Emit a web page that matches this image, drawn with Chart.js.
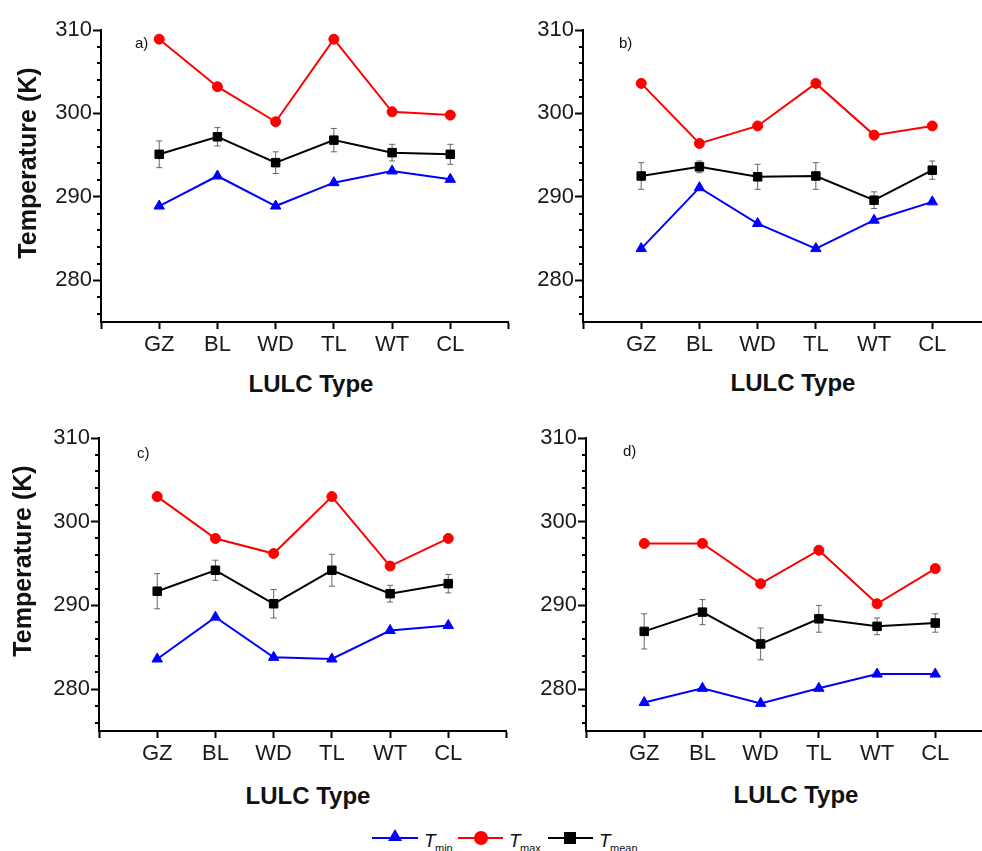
<!DOCTYPE html>
<html>
<head>
<meta charset="utf-8">
<script src="https://cdn.jsdelivr.net/npm/chart.js@4.4.1/dist/chart.umd.min.js"></script>
<style>
html, body { margin: 0; padding: 0; background: #fff; width: 982px; height: 851px; overflow: hidden; }
body { position: relative; font-family: "Liberation Sans", Arial, sans-serif; color: #111; }
canvas { position: absolute; }
.ytitle { position: absolute; font-weight: bold; font-size: 25px; white-space: nowrap; transform: translate(-50%, -50%) rotate(-90deg); }
.xtitle { position: absolute; font-weight: bold; font-size: 24px; white-space: nowrap; transform: translate(-50%, -50%); }
.tag { position: absolute; font-size: 15px; }
.lg { position: absolute; }
.lgT { position: absolute; font-style: italic; font-size: 19px; top: 830px; }
.lgS { position: absolute; font-size: 11px; top: 842px; }
</style>
</head>
<body>

<canvas id="chartA" width="521" height="360"></canvas>
<canvas id="chartB" width="521" height="360"></canvas>
<canvas id="chartC" width="521" height="361"></canvas>
<canvas id="chartD" width="521" height="361"></canvas>

<div class="ytitle" style="left:27px; top:163px;">Temperature (K)</div>
<div class="ytitle" style="left:22px; top:561px;">Temperature (K)</div>
<div class="xtitle" style="left:311px; top:384px;">LULC Type</div>
<div class="xtitle" style="left:793px; top:383px;">LULC Type</div>
<div class="xtitle" style="left:308px; top:796px;">LULC Type</div>
<div class="xtitle" style="left:796px; top:795px;">LULC Type</div>
<div class="tag" style="left:135px; top:34px;">a)</div>
<div class="tag" style="left:619px; top:34px;">b)</div>
<div class="tag" style="left:137px; top:444px;">c)</div>
<div class="tag" style="left:623px; top:442px;">d)</div>

<!-- legend -->
<div class="lg" style="left:372px; top:837px; width:46px; height:2px; background:#0000ff;"></div>
<div class="lg" style="left:388px; top:829px; width:14px; height:12px; background:#0000ff; clip-path:polygon(50% 0, 100% 100%, 0 100%);"></div>
<div class="lgT" style="left:424px;">T</div><div class="lgS" style="left:435px;">min</div>
<div class="lg" style="left:458px; top:837px; width:45px; height:2px; background:#ff0000;"></div>
<div class="lg" style="left:474px; top:831px; width:14px; height:14px; border-radius:50%; background:#ff0000;"></div>
<div class="lgT" style="left:509px;">T</div><div class="lgS" style="left:520px;">max</div>
<div class="lg" style="left:548px; top:837px; width:45px; height:2px; background:#000;"></div>
<div class="lg" style="left:564px; top:832px; width:12px; height:12px; background:#000;"></div>
<div class="lgT" style="left:599px;">T</div><div class="lgS" style="left:610px;">mean</div>

<script>
const categories = ["GZ", "BL", "WD", "TL", "WT", "CL"];
const yTicks = [280, 290, 300, 310];
const yMinorTicks = [276, 278, 282, 284, 286, 288, 292, 294, 296, 298, 302, 304, 306, 308];

// a)
const tminA = [288.9, 292.5, 288.9, 291.7, 293.1, 292.1];
const tmaxA = [308.9, 303.2, 299.0, 308.9, 300.2, 299.8];
const tmeanA = [295.1, 297.2, 294.1, 296.8, 295.3, 295.1];
const errA = [1.6, 1.1, 1.3, 1.4, 1.0, 1.2];

// b)
const tminB = [283.8, 291.1, 286.8, 283.8, 287.2, 289.4];
const tmaxB = [303.6, 296.4, 298.5, 303.6, 297.4, 298.5];
const tmeanB = [292.5, 293.6, 292.4, 292.5, 289.6, 293.2];
const errB = [1.6, 0.7, 1.5, 1.6, 1.0, 1.1];

// c)
const tminC = [283.6, 288.6, 283.8, 283.6, 287.0, 287.6];
const tmaxC = [303.0, 298.0, 296.2, 303.0, 294.7, 298.0];
const tmeanC = [291.7, 294.2, 290.2, 294.2, 291.4, 292.6];
const errC = [2.1, 1.2, 1.7, 1.9, 1.0, 1.1];

// d)
const tminD = [278.4, 280.1, 278.3, 280.1, 281.8, 281.8];
const tmaxD = [297.4, 297.4, 292.6, 296.6, 290.2, 294.4];
const tmeanD = [286.9, 289.2, 285.4, 288.4, 287.5, 287.9];
const errD = [2.1, 1.5, 1.9, 1.6, 1.0, 1.1];

const FONT = "'Liberation Sans', Arial, sans-serif";

function pts(vals) {
    return vals.map((v, i) => ({ x: i + 1, y: v }));
}

// error bars behind the mean markers
const errorBars = {
    id: "errorBars",
    beforeDatasetsDraw(chart) {
        const ctx = chart.ctx;
        const xs = chart.scales.x, ys = chart.scales.y;
        chart.data.datasets.forEach(ds => {
            if (!ds.errors) return;
            ctx.save();
            ctx.strokeStyle = "#666";
            ctx.lineWidth = 1;
            ds.data.forEach((p, i) => {
                const x = xs.getPixelForValue(p.x);
                const y1 = ys.getPixelForValue(p.y + ds.errors[i]);
                const y2 = ys.getPixelForValue(p.y - ds.errors[i]);
                ctx.beginPath();
                ctx.moveTo(x, y1); ctx.lineTo(x, y2);
                ctx.moveTo(x - 3, y1); ctx.lineTo(x + 3, y1);
                ctx.moveTo(x - 3, y2); ctx.lineTo(x + 3, y2);
                ctx.stroke();
            });
            ctx.restore();
        });
    }
};

// short minor ticks on the y axis
const minorTicks = {
    id: "minorTicks",
    afterDraw(chart) {
        const ctx = chart.ctx;
        const ys = chart.scales.y;
        const left = chart.chartArea.left;
        ctx.save();
        ctx.strokeStyle = "#000";
        ctx.lineWidth = 2;
        yMinorTicks.forEach(v => {
            const y = Math.round(ys.getPixelForValue(v));
            ctx.beginPath();
            ctx.moveTo(left, y);
            ctx.lineTo(left - 4, y);
            ctx.stroke();
        });
        ctx.restore();
    }
};

function makePanel(id, tmin, tmax, tmean, err, box) {
    const el = document.getElementById(id);
    el.style.left = box.left + "px";
    el.style.top = box.top + "px";

    new Chart(el, {
        type: "line",
        data: {
            datasets: [
                {
                    label: "Tmin",
                    data: pts(tmin),
                    borderColor: "#0000ff",
                    backgroundColor: "#0000ff",
                    borderWidth: 2,
                    pointStyle: "triangle",
                    pointRadius: 6,
                    pointBorderWidth: 1
                },
                {
                    label: "Tmax",
                    data: pts(tmax),
                    borderColor: "#ff0000",
                    backgroundColor: "#ff0000",
                    borderWidth: 2,
                    pointStyle: "circle",
                    pointRadius: 5,
                    pointBorderWidth: 1
                },
                {
                    label: "Tmean",
                    data: pts(tmean),
                    errors: err,
                    borderColor: "#000",
                    backgroundColor: "#000",
                    borderWidth: 2,
                    pointStyle: "rect",
                    pointRadius: 6,
                    pointBorderWidth: 1
                }
            ]
        },
        options: {
            responsive: false,
            animation: false,
            events: [],
            layout: { padding: { left: 0, top: 30, right: 12.5, bottom: 0 } },
            plugins: {
                legend: { display: false },
                tooltip: { enabled: false }
            },
            scales: {
                x: {
                    type: "linear",
                    min: 0,
                    max: categories.length + 1,
                    afterBuildTicks: s => {
                        s.ticks = [0, ...categories.map((c, i) => i + 1), categories.length + 1].map(v => ({ value: v }));
                    },
                    afterFit: s => { s.height = 38; },
                    ticks: {
                        callback: v => categories[v - 1] || "",
                        autoSkip: false,
                        maxRotation: 0,
                        color: "#1a1a1a",
                        font: { family: FONT, size: 22 },
                        padding: 3
                    },
                    grid: { drawOnChartArea: false, drawTicks: true, tickLength: 7, tickWidth: 2, tickColor: "#000" },
                    border: { display: true, color: "#000", width: 2 }
                },
                y: {
                    type: "linear",
                    min: 275,
                    max: 310,
                    afterBuildTicks: s => { s.ticks = yTicks.map(v => ({ value: v })); },
                    afterFit: s => { s.width = 101; },
                    ticks: {
                        color: "#1a1a1a",
                        font: { family: FONT, size: 22 },
                        padding: 1
                    },
                    grid: { drawOnChartArea: false, drawTicks: true, tickLength: 8, tickWidth: 2, tickColor: "#000" },
                    border: { display: true, color: "#000", width: 2 }
                }
            }
        },
        plugins: [errorBars, minorTicks]
    });
}

makePanel("chartA", tminA, tmaxA, tmeanA, errA, { left: 0, top: 0 });
makePanel("chartB", tminB, tmaxB, tmeanB, errB, { left: 482, top: 0 });
makePanel("chartC", tminC, tmaxC, tmeanC, errC, { left: -2.5, top: 408 });
makePanel("chartD", tminD, tmaxD, tmeanD, errD, { left: 485, top: 408 });
</script>
</body>
</html>
